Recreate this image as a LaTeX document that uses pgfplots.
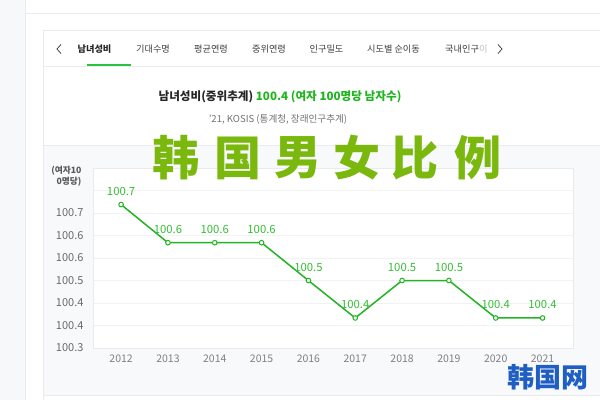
\documentclass[border=0pt]{standalone}
\usepackage{fontspec}
\setmainfont{Noto Sans CJK KR}
\newfontfamily\scfont{Noto Sans CJK SC}
\usepackage{pgfplots}
\pgfplotsset{compat=1.18}
\definecolor{pageside}{HTML}{F7F8FA}
\definecolor{rulecol}{HTML}{E9EBEE}
\definecolor{panelbg}{HTML}{F8F9FB}
\definecolor{tabgreen}{HTML}{2CC13F}
\definecolor{linegreen}{HTML}{22B422}
\definecolor{labelgreen}{HTML}{36BD36}
\definecolor{titlegreen}{HTML}{1FB51F}
\definecolor{gridcol}{HTML}{F0F2F4}
\definecolor{boxcol}{HTML}{E8EAED}
\definecolor{tickcol}{HTML}{6A6A6A}
\definecolor{wmgreen}{HTML}{7AB80E}
\definecolor{logoblue}{HTML}{1F5FC4}

\begin{document}
\begin{tikzpicture}
\path[use as bounding box] (0pt,0pt) rectangle (600pt,400pt);
% page frame
\fill[white] (0pt,0pt) rectangle (600pt,400pt);
\fill[pageside] (0pt,0pt) rectangle (25pt,400pt);
\draw[rulecol] (25pt,0pt) -- (25pt,400pt);
\draw[rulecol] (25pt,387pt) -- (600pt,387pt);
\draw[rulecol] (43pt,0pt) -- (43pt,370pt) -- (600pt,370pt);
\draw[rulecol] (43pt,333.5pt) -- (600pt,333.5pt);
\fill[panelbg] (43.5pt,5pt) rectangle (600pt,255pt);
\draw[rulecol] (43pt,255pt) -- (600pt,255pt);
\draw[rulecol] (43pt,5pt) -- (600pt,5pt);
% tabs
\draw[tabgreen, line width=2pt] (87pt,334.5pt) -- (131pt,334.5pt);
\draw[black!70, line width=0.8pt] (61pt,355.5pt) -- (57pt,351pt) -- (61pt,346.5pt);
\draw[black!70, line width=0.8pt] (498pt,355.5pt) -- (502pt,351pt) -- (498pt,346.5pt);
\begin{scope}[every node/.style={font=\fontsize{9.2}{10}\selectfont, text=black!75, inner sep=0pt}]
\node[font=\fontsize{9.2}{10}\selectfont\bfseries, text=black!85] at (94.5pt,351pt) {남녀성비};
\node at (153pt,351pt) {기대수명};
\node at (211pt,351pt) {평균연령};
\node at (269pt,351pt) {중위연령};
\node at (326.5pt,351pt) {인구밀도};
\node at (393.5pt,351pt) {시도별 순이동};
\node[anchor=west] at (445pt,351pt) {국내인구\textcolor{black!25}{이}};
\end{scope}
% titles
\node[font=\fontsize{11.6}{12}\selectfont\bfseries, text=black!85] at (280pt,303pt)
  {남녀성비(중위추계) \textcolor{titlegreen}{100.4 (여자 100명당 남자수)}};
\node[font=\fontsize{9.6}{10}\selectfont, text=black!55] at (278pt,281pt)
  {'21, KOSIS (통계청, 장래인구추계)};
\node[align=right, anchor=east, font=\fontsize{8.7}{11}\selectfont\bfseries, text=black!65]
  at (85pt,223.5pt) {(여자10\\0명당)};

\begin{axis}[
  scale only axis, width=480pt, height=180pt,
  at={(93pt,52pt)}, anchor=south west,
  xmin=2011.4, xmax=2021.65, ymin=100.3, ymax=100.83333,
  xtick={2012,2013,2014,2015,2016,2017,2018,2019,2020,2021},
  xticklabels={2012,2013,2014,2015,2016,2017,2018,2019,2020,2021},
  ytick={100.3,100.36667,100.43333,100.5,100.56667,100.63333,100.7,100.76667},
  yticklabels={100.3,100.4,100.4,100.5,100.6,100.6,100.7,{}},
  major tick length=0pt,
  ymajorgrids, grid style={gridcol, line width=0.6pt},
  axis line style={boxcol, line width=0.6pt},
  axis background/.style={fill=white},
  yticklabel style={font=\fontsize{11}{11}\selectfont, text=tickcol, xshift=-6pt},
  xticklabel style={font=\fontsize{10.5}{11}\selectfont, text=tickcol!85, yshift=-3.5pt},
]
\addplot[linegreen, line width=1.5pt, mark=*, mark size=2.3pt,
  mark options={fill=white, draw=linegreen, line width=1pt},
  nodes near coords, point meta=explicit symbolic,
  every node near coord/.append style={anchor=center, yshift=13pt,
    font=\fontsize{11.3}{11}\selectfont, text=labelgreen}]
coordinates {
  (2012,100.725)[100.7]
  (2013,100.612)[100.6]
  (2014,100.612)[100.6]
  (2015,100.612)[100.6]
  (2016,100.500)[100.5]
  (2017,100.389)[100.4]
  (2018,100.500)[100.5]
  (2019,100.500)[100.5]
  (2020,100.389)[100.4]
  (2021,100.389)[100.4]
};
\end{axis}

% watermark
\foreach \c/\x in {韩/176,国/238,男/298,女/357,比/415,例/478}
  \node[text=wmgreen, font=\scfont\bfseries\fontsize{47}{47}\selectfont, inner sep=0pt] at (\x pt,242pt) {\c};
\node[text=logoblue, font=\scfont\bfseries\fontsize{27}{27}\selectfont, inner sep=0pt] at (548pt,23pt) {韩国网};
\end{tikzpicture}
\end{document}
